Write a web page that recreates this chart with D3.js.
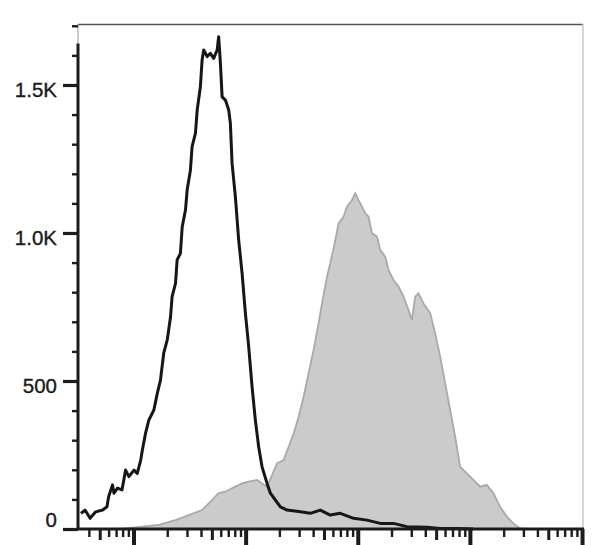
<!DOCTYPE html>
<html>
<head>
	<meta charset="utf-8">
	<title>Histogram overlay</title>
	<script src="https://cdnjs.cloudflare.com/ajax/libs/d3/7.8.5/d3.min.js"></script>
	<style type="text/css">
		body { margin: 0; background: #fff; }
		svg { display: block; }
		.ylab text { font-family: "Liberation Sans", Arial, sans-serif; font-size: 20.5px; fill: #1a1a1a; stroke: #1a1a1a; stroke-width: 0.35px; }
	</style>
</head>
<body>
	<script type="text/javascript">

		// control (black line): intensity and count
		const ctrlX = [34, 37, 41, 46, 53, 58, 60, 65, 67, 72, 79, 85, 91, 101, 108, 116, 120, 128, 137, 152,
			163, 174, 186, 200, 214, 221, 237, 245, 262, 272, 291, 301, 322, 333, 357, 370, 395, 409, 423, 454,
			485, 519, 557, 575, 596, 617, 660, 706, 731, 757, 810, 867, 930, 995, 1065, 1141, 1221, 1307, 1401, 1553,
			1662, 1841, 2040, 2341, 3074, 3775, 4634, 5689, 6986, 9175, 12078, 15862, 20838, 27432, 41357, 54325, 76490, 106900];
		const ctrlY = [53, 64, 36, 58, 64, 75, 109, 149, 121, 138, 132, 199, 177, 199, 188, 233, 267, 323, 368, 402,
			458, 503, 594, 639, 717, 785, 830, 909, 931, 1021, 1078, 1145, 1213, 1292, 1337, 1416, 1494, 1584, 1618, 1596,
			1607, 1590, 1618, 1663, 1573, 1460, 1449, 1416, 1371, 1235, 1123, 976, 864, 729, 616, 481, 368, 278, 210, 154,
			121, 98, 75, 64, 58, 53, 64, 47, 53, 36, 30, 19, 19, 8, 6, 2, 2, 0];

		// stained sample (grey filled)
		const stainX = [70, 85, 120, 168, 237, 311, 409, 503, 575, 660, 810, 930, 1065, 1265, 1401, 1553, 1720, 1906, 2183, 2418,
			2680, 2969, 3290, 3645, 4038, 4475, 4799, 5317, 5689, 6304, 6745, 7473, 8012, 8882, 9500, 10165, 10900, 11663, 12479, 13381,
			14825, 15862, 17579, 18808, 20838, 23093, 25586, 28354, 30389, 32523, 34799, 38574, 44246, 49023, 54325, 60198, 66681, 73890, 81874, 93935,
			107550, 123370, 141580, 162130, 186040, 213400, 244340, 280370, 330000];
		const stainY = [0, 2, 8, 14, 30, 47, 64, 98, 121, 126, 143, 154, 160, 166, 154, 143, 182, 222, 233, 278,
			323, 379, 447, 526, 605, 695, 762, 852, 898, 976, 1033, 1055, 1089, 1111, 1134, 1111, 1089, 1066, 1055, 999,
			988, 943, 920, 875, 841, 819, 785, 740, 706, 785, 796, 762, 729, 661, 582, 492, 402, 312, 210, 188,
			166, 143, 149, 121, 75, 42, 19, 2, 0];

		const yTicks = [0, 500, 1000, 1500];
		const yLabels = ['0', '500', '1.0K', '1.5K'];
		const yMinor = d3.range(100, 1800, 100);
		const xDecades = [1e2, 1e3, 1e4, 1e5, 1e6];
		const xFives = [50, 500, 5000, 50000, 500000];
		const xMinor = [40, 60, 70, 80, 90, 200, 300, 400, 600, 700, 800, 900, 2000, 3000, 4000, 6000, 7000, 8000, 9000,
			20000, 30000, 40000, 60000, 70000, 80000, 90000, 200000, 300000, 400000, 600000, 700000, 800000, 900000];

		const W = 608, H = 545;
		const m = {top: 24, right: 25, bottom: 16, left: 78};

		let svg = d3.select('body').append('svg')
			.attr('width', W)
			.attr('height', H);

		let xScale = d3.scaleLog().domain([32, 1.02e6]).range([m.left, W - m.right]);
		let yScale = d3.scaleLinear().domain([0, 1706]).range([H - m.bottom, m.top]);

		let ctrl = ctrlX.map((x, i) => ({x: x, y: ctrlY[i]}));
		let stain = stainX.map((x, i) => ({x: x, y: stainY[i]}));

		// frame
		svg.append('line')
			.attr('x1', m.left).attr('x2', W - m.right)
			.attr('y1', m.top + 0.5).attr('y2', m.top + 0.5)
			.attr('stroke', '#555').attr('stroke-width', 1.5);
		svg.append('line')
			.attr('x1', W - m.right).attr('x2', W - m.right)
			.attr('y1', m.top).attr('y2', H - m.bottom)
			.attr('stroke', '#bbb').attr('stroke-width', 1.2);
		svg.append('line')
			.attr('x1', m.left).attr('x2', m.left)
			.attr('y1', m.top).attr('y2', H - m.bottom)
			.attr('stroke', '#999').attr('stroke-width', 1);

		// grey histogram
		let area = d3.area()
			.x(d => xScale(d.x))
			.y0(yScale(0))
			.y1(d => yScale(d.y));
		svg.append('path')
			.datum(stain)
			.attr('d', area)
			.attr('fill', '#cbcbcb')
			.attr('stroke', '#a9a9a9')
			.attr('stroke-width', 1.8);

		// black histogram
		let line = d3.line()
			.x(d => xScale(d.x))
			.y(d => yScale(d.y));
		svg.append('path')
			.datum(ctrl)
			.attr('d', line)
			.attr('fill', 'none')
			.attr('stroke', '#161616')
			.attr('stroke-width', 3)
			.attr('stroke-linejoin', 'round');

		// x axis: three layers of ticks
		function xLayer(vals, size, width) {
			let g = svg.append('g')
				.attr('transform', `translate(0,${H - m.bottom})`)
				.call(d3.axisBottom(xScale).tickValues(vals).tickSize(size).tickFormat(''));
			g.select('.domain').remove();
			g.selectAll('line').attr('stroke', '#1c1c1c').attr('stroke-width', width);
		}
		xLayer(xMinor, 8, 2.4);
		xLayer(xFives, 11, 3);
		xLayer(xDecades, 18, 4);

		svg.append('line')
			.attr('x1', m.left - 1).attr('x2', W - m.right + 1)
			.attr('y1', H - m.bottom).attr('y2', H - m.bottom)
			.attr('stroke', '#1c1c1c').attr('stroke-width', 3);

		// y axis
		let yMin = svg.append('g')
			.attr('transform', `translate(${m.left},0)`)
			.call(d3.axisLeft(yScale).tickValues(yMinor).tickSize(6).tickFormat(''));
		yMin.select('.domain').remove();
		yMin.selectAll('line').attr('stroke', '#1c1c1c').attr('stroke-width', 2.4);

		let yMaj = svg.append('g')
			.attr('class', 'ylab')
			.attr('transform', `translate(${m.left},0)`)
			.call(d3.axisLeft(yScale).tickValues(yTicks).tickSize(15).tickPadding(6)
				.tickFormat((d, i) => yLabels[i]));
		yMaj.select('.domain').remove();
		yMaj.selectAll('line').attr('stroke', '#1c1c1c').attr('stroke-width', 3.2);
		yMaj.selectAll('text')
			.attr('dy', d => d === 0 ? '-0.1em' : '0.55em');

		svg.append('line')
			.attr('x1', m.left).attr('x2', m.left)
			.attr('y1', yScale(1640)).attr('y2', H - m.bottom + 1)
			.attr('stroke', '#1c1c1c').attr('stroke-width', 3);

	</script>
</body>
</html>
